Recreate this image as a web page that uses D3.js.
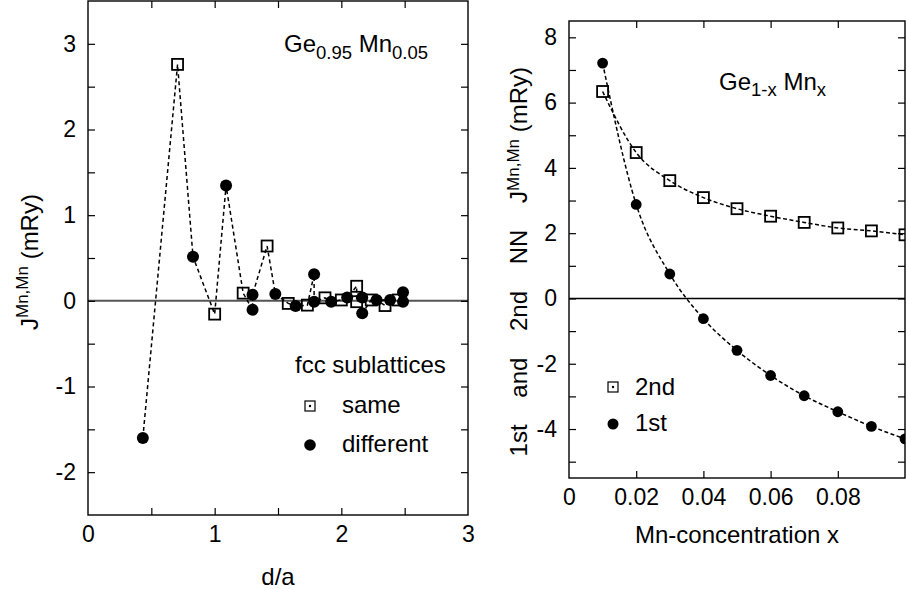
<!DOCTYPE html>
<html>
<head>
<meta charset="utf-8">
<script src="https://cdn.jsdelivr.net/npm/d3@7"></script>
<style>
  body { margin: 0; background: #fff; }
  svg { display: block; }
  text { font-family: "Liberation Sans", Arial, sans-serif; fill: #000; }
</style>
</head>
<body>
<svg id="chart" width="907" height="589"></svg>
<script>
// left panel: J(Mn,Mn) vs d/a for Ge0.95Mn0.05
const sameDist = [0.707, 1.000, 1.225, 1.414, 1.581, 1.732, 1.871, 2.000, 2.121, 2.121, 2.236, 2.345, 2.449];
const sameJ    = [2.76, -0.155, 0.09, 0.64, -0.03, -0.05, 0.035, 0.01, 0.17, -0.01, 0.01, -0.055, 0.01];
const diffDist = [0.433, 0.829, 1.090, 1.299, 1.299, 1.479, 1.639, 1.785, 1.785, 1.920, 2.046, 2.165, 2.165, 2.278, 2.385, 2.487, 2.487];
const diffJ    = [-1.60, 0.515, 1.345, -0.105, 0.07, 0.08, -0.06, 0.31, -0.01, -0.01, 0.04, 0.04, -0.145, 0.01, 0.01, 0.10, -0.01];
const leftXTicks = [0, 1, 2, 3];
const leftYTicks = [-2, -1, 0, 1, 2, 3];

// right panel: 1st and 2nd NN exchange vs Mn concentration
const conc = [0.01, 0.02, 0.03, 0.04, 0.05, 0.06, 0.07, 0.08, 0.09, 0.10];
const nn2  = [6.34, 4.47, 3.61, 3.09, 2.75, 2.52, 2.33, 2.16, 2.07, 1.95];
const nn1  = [7.21, 2.88, 0.75, -0.62, -1.59, -2.36, -2.98, -3.47, -3.92, -4.30];
const rightXTicks = [0, 0.02, 0.04, 0.06, 0.08];
const rightYTicks = [-4, -2, 0, 2, 4, 6, 8];

const FONT = '"Liberation Sans", Arial, sans-serif';
const svg = d3.select('#chart');

function frameAndTicks(g, x, y, xMinor, yMinor, w, h) {
    const tick = (axis, tr) => {
        const a = g.append('g').attr('transform', tr).call(axis);
        a.select('.domain').remove();
        a.selectAll('line').attr('stroke', '#000').attr('stroke-width', 1.2);
    };
    tick(d3.axisBottom(x).tickValues(xMinor).tickSize(-7).tickFormat(''), `translate(0,${h})`);
    tick(d3.axisTop(x).tickValues(xMinor).tickSize(-7).tickFormat(''), 'translate(0,0)');
    tick(d3.axisLeft(y).tickValues(yMinor).tickSize(-7).tickFormat(''), 'translate(0,0)');
    tick(d3.axisRight(y).tickValues(yMinor).tickSize(-7).tickFormat(''), `translate(${w},0)`);
    g.append('rect').attr('width', w).attr('height', h)
        .attr('fill', 'none').attr('stroke', '#000').attr('stroke-width', 1.4);
}

function tickLabels(g, x, y, xVals, yVals, xFmt, h) {
    const bx = g.append('g').attr('transform', `translate(0,${h})`)
        .call(d3.axisBottom(x).tickValues(xVals).tickSize(0).tickPadding(11).tickFormat(xFmt));
    const ly = g.append('g')
        .call(d3.axisLeft(y).tickValues(yVals).tickSize(0).tickPadding(12).tickFormat(d => String(d)));
    [bx, ly].forEach(a => {
        a.select('.domain').remove();
        a.attr('font-size', 23).attr('font-family', FONT);
        a.selectAll('text').attr('fill', '#000');
    });
}

function squares(g, pts, side) {
    g.selectAll(null).data(pts).enter().append('rect')
        .attr('x', d => d[0] - side / 2).attr('y', d => d[1] - side / 2)
        .attr('width', side).attr('height', side)
        .attr('fill', 'none').attr('stroke', '#000').attr('stroke-width', 1.8);
}

function circles(g, pts, r) {
    g.selectAll(null).data(pts).enter().append('circle')
        .attr('cx', d => d[0]).attr('cy', d => d[1]).attr('r', r).attr('fill', '#000');
}

// ---------- left panel ----------
{
    const m = { left: 88, top: 1 }, w = 380, h = 514;
    const g = svg.append('g').attr('transform', `translate(${m.left},${m.top})`);
    const x = d3.scaleLinear().domain([0, 3]).range([0, w]);
    const y = d3.scaleLinear().domain([-2.5, 3.5]).range([h, 0]);

    g.append('line').attr('x1', 0).attr('x2', w).attr('y1', y(0)).attr('y2', y(0))
        .attr('stroke', '#555').attr('stroke-width', 2);

    const all = sameDist.map((d, i) => [d, sameJ[i]])
        .concat(diffDist.map((d, i) => [d, diffJ[i]]))
        .sort((a, b) => a[0] - b[0]);
    g.append('path').datum(all)
        .attr('d', d3.line().x(d => x(d[0])).y(d => y(d[1])))
        .attr('fill', 'none').attr('stroke', '#000').attr('stroke-width', 1.5)
        .attr('stroke-dasharray', '4,3');

    squares(g, sameDist.map((d, i) => [x(d), y(sameJ[i])]), 11);
    circles(g, diffDist.map((d, i) => [x(d), y(diffJ[i])]), 6);

    frameAndTicks(g, x, y, d3.range(0.5, 2.9, 0.5), d3.range(-2, 3.01, 0.5), w, h);
    tickLabels(g, x, y, leftXTicks, leftYTicks, d => String(d), h);

    // legend
    g.append('text').attr('x', 207).attr('y', 372).attr('font-size', 24).text('fcc sublattices');
    g.append('rect').attr('x', 222 - 5).attr('y', 405 - 5).attr('width', 10).attr('height', 10)
        .attr('fill', 'none').attr('stroke', '#000').attr('stroke-width', 1.2);
    g.append('circle').attr('cx', 222).attr('cy', 405).attr('r', 1.2).attr('fill', '#000');
    g.append('text').attr('x', 254).attr('y', 412).attr('font-size', 24).text('same');
    g.append('circle').attr('cx', 222).attr('cy', 444).attr('r', 5.8).attr('fill', '#000');
    g.append('text').attr('x', 254).attr('y', 451).attr('font-size', 24).text('different');

    // annotation
    const t = g.append('text').attr('x', 196).attr('y', 51).attr('font-size', 24);
    t.append('tspan').text('Ge');
    t.append('tspan').attr('font-size', 18.5).attr('dy', 7).text('0.95');
    t.append('tspan').attr('dy', -7).text(' Mn');
    t.append('tspan').attr('font-size', 18.5).attr('dy', 7).text('0.05');

    svg.append('text').attr('x', m.left + w / 2).attr('y', 585).attr('text-anchor', 'middle')
        .attr('font-size', 24).text('d/a');

    const yt = svg.append('text').attr('transform', 'translate(38,330) rotate(-90)').attr('font-size', 24);
    yt.append('tspan').text('J');
    yt.append('tspan').attr('font-size', 17).attr('dy', -10).text('Mn,Mn');
    yt.append('tspan').attr('dy', 10).text(' (mRy)');
}

// ---------- right panel ----------
{
    const m = { left: 569, top: 21 }, w = 336, h = 457;
    const g = svg.append('g').attr('transform', `translate(${m.left},${m.top})`);
    const x = d3.scaleLinear().domain([0, 0.1]).range([0, w]);
    const y = d3.scaleLinear().domain([-5.5, 8.5]).range([h, 0]);

    g.append('clipPath').attr('id', 'clipR').append('rect').attr('width', w).attr('height', h);
    const data = g.append('g').attr('clip-path', 'url(#clipR)');

    data.append('line').attr('x1', 0).attr('x2', w).attr('y1', y(0)).attr('y2', y(0))
        .attr('stroke', '#000').attr('stroke-width', 1.5);

    const line = d3.line().curve(d3.curveMonotoneX).x(d => x(d[0])).y(d => y(d[1]));
    [nn2, nn1].forEach(s => {
        data.append('path').datum(conc.map((c, i) => [c, s[i]]))
            .attr('d', line).attr('fill', 'none').attr('stroke', '#000')
            .attr('stroke-width', 1.5).attr('stroke-dasharray', '4,2.5');
    });

    squares(data, conc.map((c, i) => [x(c), y(nn2[i])]), 11);
    circles(data, conc.map((c, i) => [x(c), y(nn1[i])]), 5.4);

    frameAndTicks(g, x, y, [0.02, 0.04, 0.06, 0.08], d3.range(-5, 8.01, 1), w, h);
    tickLabels(g, x, y, rightXTicks, rightYTicks, d => d === 0 ? '0' : d3.format('.2f')(d), h);

    // legend
    g.append('rect').attr('x', 44 - 5).attr('y', 366 - 5).attr('width', 10).attr('height', 10)
        .attr('fill', 'none').attr('stroke', '#000').attr('stroke-width', 1.2);
    g.append('circle').attr('cx', 44).attr('cy', 366).attr('r', 1.2).attr('fill', '#000');
    g.append('text').attr('x', 66).attr('y', 374).attr('font-size', 24).text('2nd');
    g.append('circle').attr('cx', 44).attr('cy', 403).attr('r', 5.5).attr('fill', '#000');
    g.append('text').attr('x', 66).attr('y', 410).attr('font-size', 24).text('1st');

    // annotation
    const t = g.append('text').attr('x', 150).attr('y', 69).attr('font-size', 24);
    t.append('tspan').text('Ge');
    t.append('tspan').attr('font-size', 18.5).attr('dy', 6).text('1-x');
    t.append('tspan').attr('dy', -6).text(' Mn');
    t.append('tspan').attr('font-size', 18.5).attr('dy', 6).text('x');

    svg.append('text').attr('x', m.left + w / 2).attr('y', 543).attr('text-anchor', 'middle')
        .attr('font-size', 24).text('Mn-concentration x');

    const gap = '\u00a0\u00a0\u00a0\u00a0';
    const yt = svg.append('text').attr('transform', 'translate(527,67) rotate(-90)')
        .attr('text-anchor', 'end').attr('font-size', 24);
    yt.append('tspan').text(`1st${gap}and${gap}2nd${gap}NN${gap}J`);
    yt.append('tspan').attr('font-size', 17).attr('dy', -8).text('Mn,Mn');
    yt.append('tspan').attr('dy', 8).text(' (mRy)');
}
</script>
</body>
</html>
